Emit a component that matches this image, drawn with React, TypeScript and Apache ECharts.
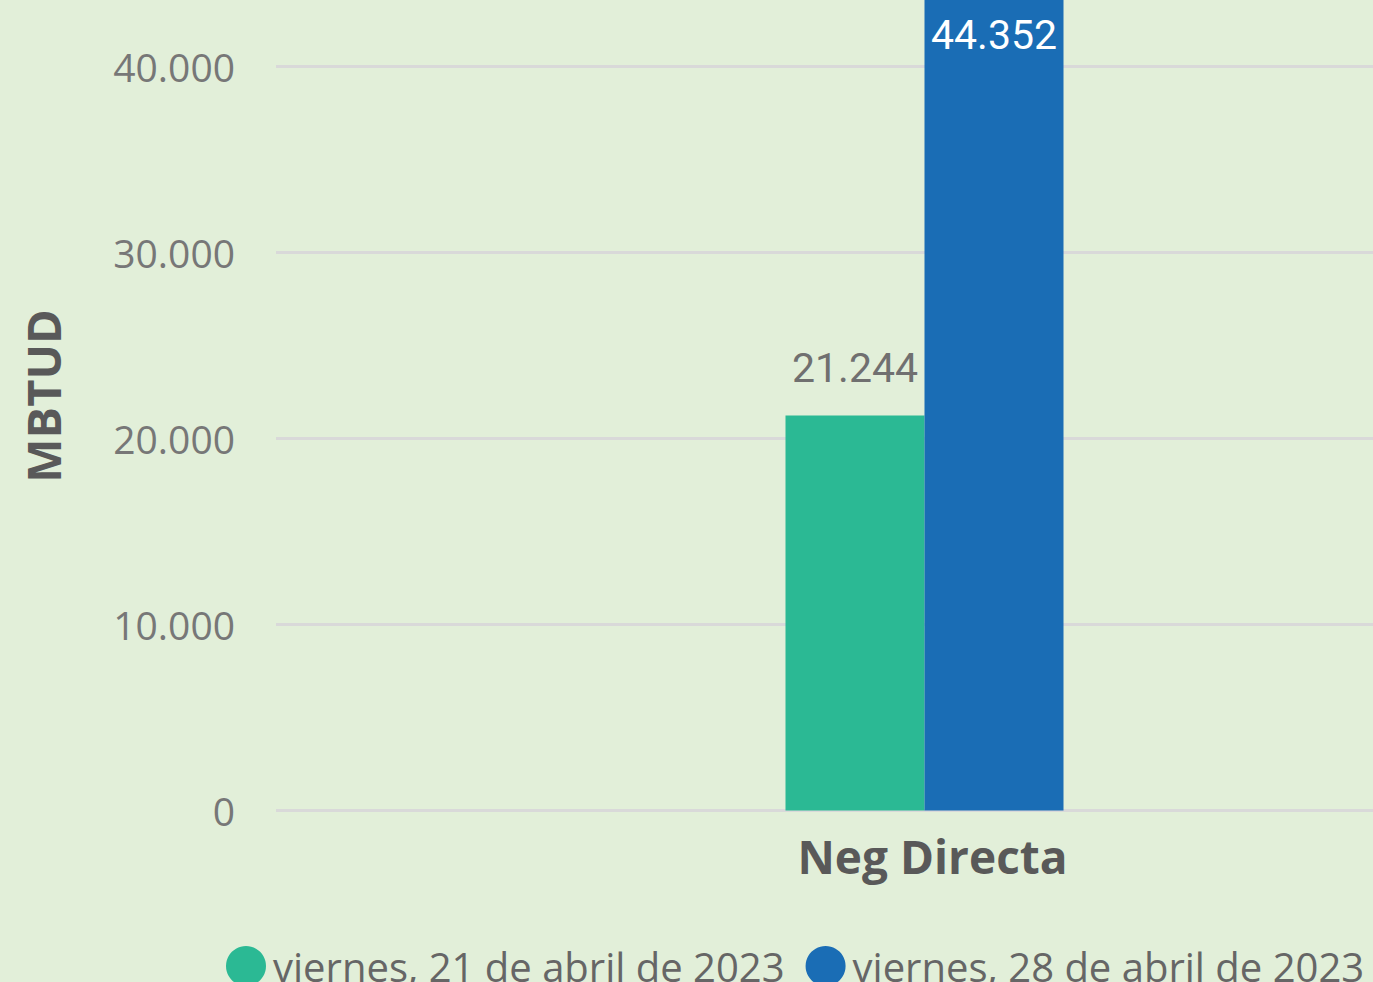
import React, { useEffect, useRef } from "react";
import * as echarts from "echarts";

const categories = ["Neg Directa"];
const seriesNames = ["viernes, 21 de abril de 2023", "viernes, 28 de abril de 2023"];
const values21 = [21244];
const values28 = [44352];
const yTicks = [0, 10000, 20000, 30000, 40000];

const fmt = (v: number) => {
  const s = Math.round(v).toString();
  return s.replace(/\B(?=(\d{3})+(?!\d))/g, ".");
};

export default function App() {
  const ref = useRef<HTMLDivElement>(null);
  useEffect(() => {
    if (!ref.current) return;
    const chart = echarts.init(ref.current, undefined, { renderer: "svg" });
    chart.setOption({
      animation: false,
      backgroundColor: "#E2EFD9",
      grid: { left: 276, right: 0, top: 0, bottom: 171.5, containLabel: false },
      graphic: [
        {
          type: "text",
          x: 43,
          y: 396,
          rotation: Math.PI / 2,
          style: {
            text: "MBTUD",
            fill: "#595959",
            font: "bold 47px 'Open Sans', 'Noto Sans', sans-serif",
            align: "center",
            verticalAlign: "middle",
          },
        },
      ],
      legend: {
        left: 221,
        top: 941,
        icon: "circle",
        itemWidth: 40,
        itemHeight: 40,
        itemGap: 21,
        textStyle: { fontSize: 40, color: "#666666", fontFamily: "'Open Sans', 'Noto Sans', sans-serif", padding: [0, 0, 0, 2] },
        data: seriesNames,
      },
      xAxis: {
        type: "category",
        data: categories,
        axisLine: { show: false },
        axisTick: { show: false },
        axisLabel: {
          margin: 22,
          fontSize: 46,
          fontWeight: "bold",
          color: "#595959",
          fontFamily: "'Open Sans', 'Noto Sans', sans-serif",
          padding: [0, 0, 0, 16],
        },
      },
      yAxis: {
        type: "value",
        min: 0,
        max: 43587,
        interval: 10000,
        axisLine: { show: false },
        axisTick: { show: false },
        splitLine: { show: true, showMaxLine: false, lineStyle: { color: "#D9D9D9", width: 3 } },
        axisLabel: {
          showMaxLabel: false,
          margin: 41,
          fontSize: 39,
          color: "#777777",
          fontFamily: "'Open Sans', 'Noto Sans', sans-serif",
          formatter: (v: number) => (yTicks.includes(v) ? fmt(v) : ""),
        },
      },
      series: [
        {
          name: seriesNames[0],
          type: "bar",
          data: values21,
          barWidth: 139,
          barGap: "0%",
          itemStyle: { color: "#2BB994" },
          label: {
            show: true,
            position: "top",
            distance: 27,
            fontSize: 41,
            color: "#707070",
            fontFamily: "Roboto, sans-serif",
            formatter: (p: any) => fmt(p.value),
          },
        },
        {
          name: seriesNames[1],
          type: "bar",
          data: values28,
          barWidth: 139,
          barGap: "0%",
          clip: true,
          itemStyle: { color: "#1A6DB5" },
          label: {
            show: true,
            position: "insideTop",
            distance: 14,
            fontSize: 41,
            color: "#FFFFFF",
            fontFamily: "Roboto, sans-serif",
            formatter: (p: any) => fmt(p.value),
          },
        },
      ],
    });
    return () => chart.dispose();
  }, []);
  return (
    <div style={{ position: "absolute", left: 0, top: 0, width: 1373, height: 982, overflow: "hidden" }}>
      <div ref={ref} style={{ width: 1573, height: 982 }} />
    </div>
  );
}
